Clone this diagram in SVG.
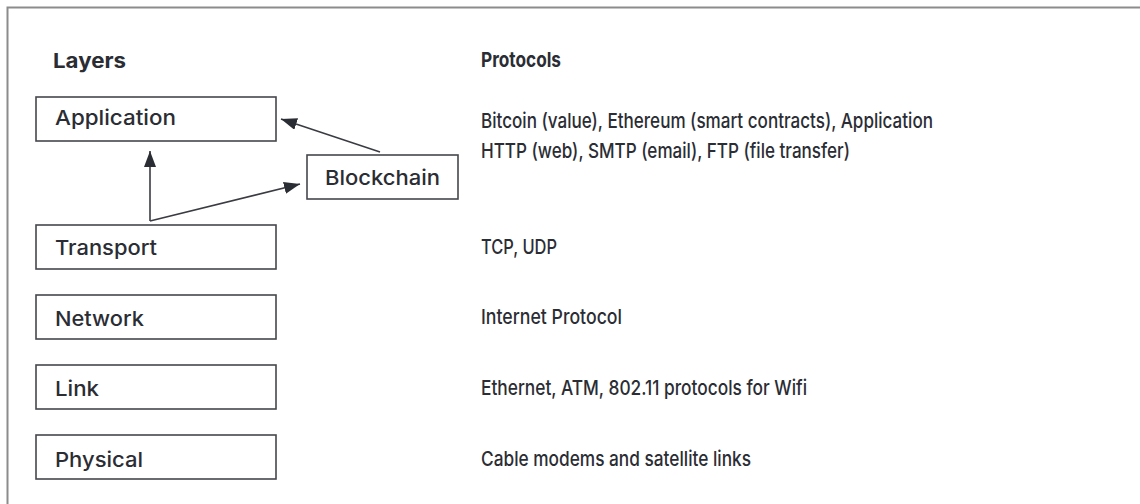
<svg xmlns="http://www.w3.org/2000/svg" width="1140" height="504" viewBox="0 0 1140 504">
<style>
text{font-family:Inter,"DejaVu Sans","Liberation Sans",sans-serif;font-size:20.5px;font-weight:500;fill:#2b2d34}
.b{font-weight:700}
.box{fill:#fff;stroke:#45474c;stroke-width:1.6}
.con{stroke:#3a3c42;stroke-width:1.6;fill:none}
</style>
<defs>
<marker id="ah" viewBox="0 0 16 12" refX="16" refY="6" markerWidth="16" markerHeight="12" markerUnits="userSpaceOnUse" orient="auto">
<path d="M0,0 L16,6 L0,12 Z" fill="#2b2d34"/>
</marker>
</defs>
<rect width="1140" height="504" fill="#fff"/>
<path d="M7.5,504 V7.5 H1140" fill="none" stroke="#8c8c8c" stroke-width="2"/>
<text class="b" x="53" y="68" textLength="73" lengthAdjust="spacingAndGlyphs">Layers</text>
<text class="b" x="481" y="67" textLength="80" lengthAdjust="spacingAndGlyphs">Protocols</text>
<g id="connectors">
<path class="con" d="M150,221 V151" marker-end="url(#ah)"/>
<path class="con" d="M150,221 L300,184" marker-end="url(#ah)"/>
<path class="con" d="M380,152 L281,119" marker-end="url(#ah)"/>
</g>
<g id="application"><rect class="box" x="36" y="97" width="240" height="44"/><text x="55" y="125" textLength="121" lengthAdjust="spacingAndGlyphs">Application</text></g>
<g id="blockchain"><rect class="box" x="307" y="155" width="151" height="44"/><text x="325" y="185" textLength="115" lengthAdjust="spacingAndGlyphs">Blockchain</text></g>
<g id="transport"><rect class="box" x="36" y="225" width="240" height="44"/><text x="55" y="255" textLength="102" lengthAdjust="spacingAndGlyphs">Transport</text></g>
<g id="network"><rect class="box" x="36" y="295" width="240" height="44"/><text x="55" y="326" textLength="89" lengthAdjust="spacingAndGlyphs">Network</text></g>
<g id="link"><rect class="box" x="36" y="365" width="240" height="44"/><text x="55" y="396" textLength="44" lengthAdjust="spacingAndGlyphs">Link</text></g>
<g id="physical"><rect class="box" x="36" y="435" width="240" height="44"/><text x="55" y="467" textLength="88" lengthAdjust="spacingAndGlyphs">Physical</text></g>
<g id="protocols">
<text x="481" y="128" textLength="452" lengthAdjust="spacingAndGlyphs">Bitcoin (value), Ethereum (smart contracts), Application</text>
<text x="481" y="158" textLength="369" lengthAdjust="spacingAndGlyphs">HTTP (web), SMTP (email), FTP (file transfer)</text>
<text x="481" y="254" textLength="76" lengthAdjust="spacingAndGlyphs">TCP, UDP</text>
<text x="481" y="324" textLength="141" lengthAdjust="spacingAndGlyphs">Internet Protocol</text>
<text x="481" y="395" textLength="326" lengthAdjust="spacingAndGlyphs">Ethernet, ATM, 802.11 protocols for Wifi</text>
<text x="481" y="466" textLength="270" lengthAdjust="spacingAndGlyphs">Cable modems and satellite links</text>
</g>
</svg>
